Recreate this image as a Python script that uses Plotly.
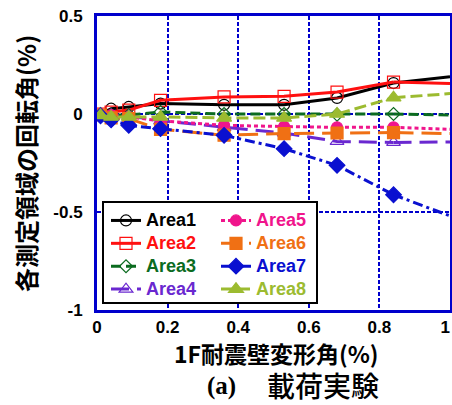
import plotly.graph_objects as go

# ---- data ----
drift = [0.01, 0.04, 0.09, 0.18, 0.36, 0.53, 0.68, 0.84, 1.0]
area1 = [0.0, 0.027, 0.036, 0.053, 0.047, 0.047, 0.082, 0.158, 0.19]
area2 = [0.0, 0.01, 0.02, 0.07, 0.087, 0.09, 0.112, 0.163, 0.155]
area3 = [0.0, -0.005, -0.005, 0.01, 0.0, 0.0, -0.003, 0.0, -0.005]
area4 = [0.0, -0.005, -0.01, -0.035, -0.068, -0.097, -0.14, -0.145, -0.143]
area5 = [0.0, -0.005, -0.015, -0.035, -0.058, -0.064, -0.068, -0.068, -0.078]
area6 = [-0.005, -0.02, -0.024, -0.078, -0.108, -0.1, -0.097, -0.095, -0.1]
area7 = [-0.01, -0.03, -0.058, -0.075, -0.109, -0.177, -0.262, -0.412, -0.52]
area8 = [-0.007, -0.015, -0.015, -0.015, -0.02, -0.02, 0.0, 0.083, 0.104]

names = ["Area1", "Area2", "Area3", "Area4", "Area5", "Area6", "Area7", "Area8"]
series = [area1, area2, area3, area4, area5, area6, area7, area8]
colors = ["#000000", "#ff1010", "#0b6b1f", "#6a28d0", "#f0158c", "#f07014", "#0a10d0", "#9cbb30"]
symbols = ["circle-open", "square-open", "diamond-open", "triangle-up-open",
           "circle", "square", "diamond", "triangle-up"]
dashes = ["solid", "solid", "10px,5px", "18px,8px", "4px,3px", "20px,8px",
          "10px,4px,3px,4px", "12px,5px"]
msizes = [11, 12, 10, 12, 11, 12, 12, 13]
legend_ids = ["legend", "legend", "legend", "legend", "legend2", "legend2", "legend2", "legend2"]

x_ticks = [0, 0.2, 0.4, 0.6, 0.8, 1]
x_ticklabels = ["0", "0.2", "0.4", "0.6", "0.8", "1\u00a0\u00a0"]
y_ticks = [0.5, 0, -0.5, -1]
y_ticklabels = ["0.5", "0", "-0.5", "-1"]

FRAME = "#0000cc"

W, H = 452, 405
ML, MT, MR, MB = 97, 16, 2, 95
PW, PH = W - ML - MR, H - MT - MB  # 353 x 294


def px2paper_x(px):
    return (px - ML) / PW


def px2paper_y(py):
    return (MT + PH - py) / PH


fig = go.Figure()
for name, ys, c, sym, d, ms, lg in zip(names, series, colors, symbols, dashes, msizes, legend_ids):
    fig.add_trace(go.Scatter(
        x=drift[:8], y=ys[:8], mode="lines+markers",
        name=f"<span style='color:{c};font-size:18px'>{name}</span>",
        line=dict(color=c, width=3, dash=d),
        marker=dict(symbol=sym, size=ms, color=c, line=dict(color=c, width=1.2)),
        legend=lg,
    ))
    fig.add_trace(go.Scatter(
        x=drift[7:], y=ys[7:], mode="lines", showlegend=False,
        line=dict(color=c, width=3, dash=d), hoverinfo="skip",
    ))

tickfont = dict(family="Liberation Sans, Arial", size=17, color="#000000", weight="bold")

fig.update_xaxes(
    range=[0, 1], tickvals=x_ticks, ticktext=x_ticklabels,
    showgrid=True, gridcolor=FRAME, gridwidth=2, griddash="4px,2px",
    zeroline=False, showline=True, linecolor=FRAME, linewidth=3, mirror=True,
    ticks="", tickfont=tickfont, ticklabelstandoff=0, automargin=False,
    ticklabeloverflow="allow",
)
fig.update_yaxes(
    range=[-1, 0.5], tickvals=y_ticks, ticktext=y_ticklabels,
    showgrid=True, gridcolor=FRAME, gridwidth=2, griddash="4px,2px",
    zeroline=False, showline=True, linecolor=FRAME, linewidth=3, mirror=True,
    ticks="", tickfont=tickfont, ticklabelstandoff=8, automargin=False,
    ticklabeloverflow="allow",
)

legfont = dict(family="Liberation Sans, Arial", size=15.3, weight="bold")
fig.update_layout(
    width=W, height=H,
    margin=dict(l=ML, r=MR, t=MT, b=MB, autoexpand=False),
    paper_bgcolor="white", plot_bgcolor="white",
    showlegend=True,
    legend=dict(
        orientation="v", x=px2paper_x(106), y=px2paper_y(204), xanchor="left", yanchor="top",
        bgcolor="rgba(0,0,0,0)", borderwidth=0, font=legfont,
        traceorder="normal", tracegroupgap=0, itemwidth=30,
    ),
    legend2=dict(
        orientation="v", x=px2paper_x(216), y=px2paper_y(204), xanchor="left", yanchor="top",
        bgcolor="rgba(0,0,0,0)", borderwidth=0, font=legfont,
        traceorder="normal", tracegroupgap=0, itemwidth=30,
    ),
    shapes=[
        dict(type="rect", xref="paper", yref="paper",
             x0=px2paper_x(103), x1=px2paper_x(317), y0=px2paper_y(303), y1=px2paper_y(202),
             fillcolor="white", line=dict(color="#000000", width=2), layer="above"),
    ],
    annotations=[
        dict(text="各測定領域の回転角(%)", xref="paper", yref="paper",
             x=px2paper_x(25), y=px2paper_y(164), textangle=-90, showarrow=False,
             xanchor="center", yanchor="middle",
             font=dict(family="Noto Sans CJK JP", size=24, color="#000000", weight="bold")),
        dict(text="1F耐震壁変形角(%)", xref="paper", yref="paper",
             x=px2paper_x(276), y=px2paper_y(353), showarrow=False,
             xanchor="center", yanchor="middle",
             font=dict(family="Noto Sans CJK JP", size=23, color="#000000", weight="bold")),
        dict(text="(a)", xref="paper", yref="paper",
             x=px2paper_x(221), y=px2paper_y(386), showarrow=False,
             xanchor="center", yanchor="middle",
             font=dict(family="Liberation Serif, Times New Roman", size=25, color="#000000", weight="bold")),
        dict(text="載荷実験", xref="paper", yref="paper",
             x=px2paper_x(323), y=px2paper_y(385), showarrow=False,
             xanchor="center", yanchor="middle",
             font=dict(family="Noto Sans CJK JP", size=28, color="#000000", weight=500)),
    ],
)

fig.write_html(
    "out.html",
    config={"displayModeBar": False},
    post_script="document.body.style.margin='0';document.documentElement.style.overflow='hidden';document.body.style.overflow='hidden';",
)
